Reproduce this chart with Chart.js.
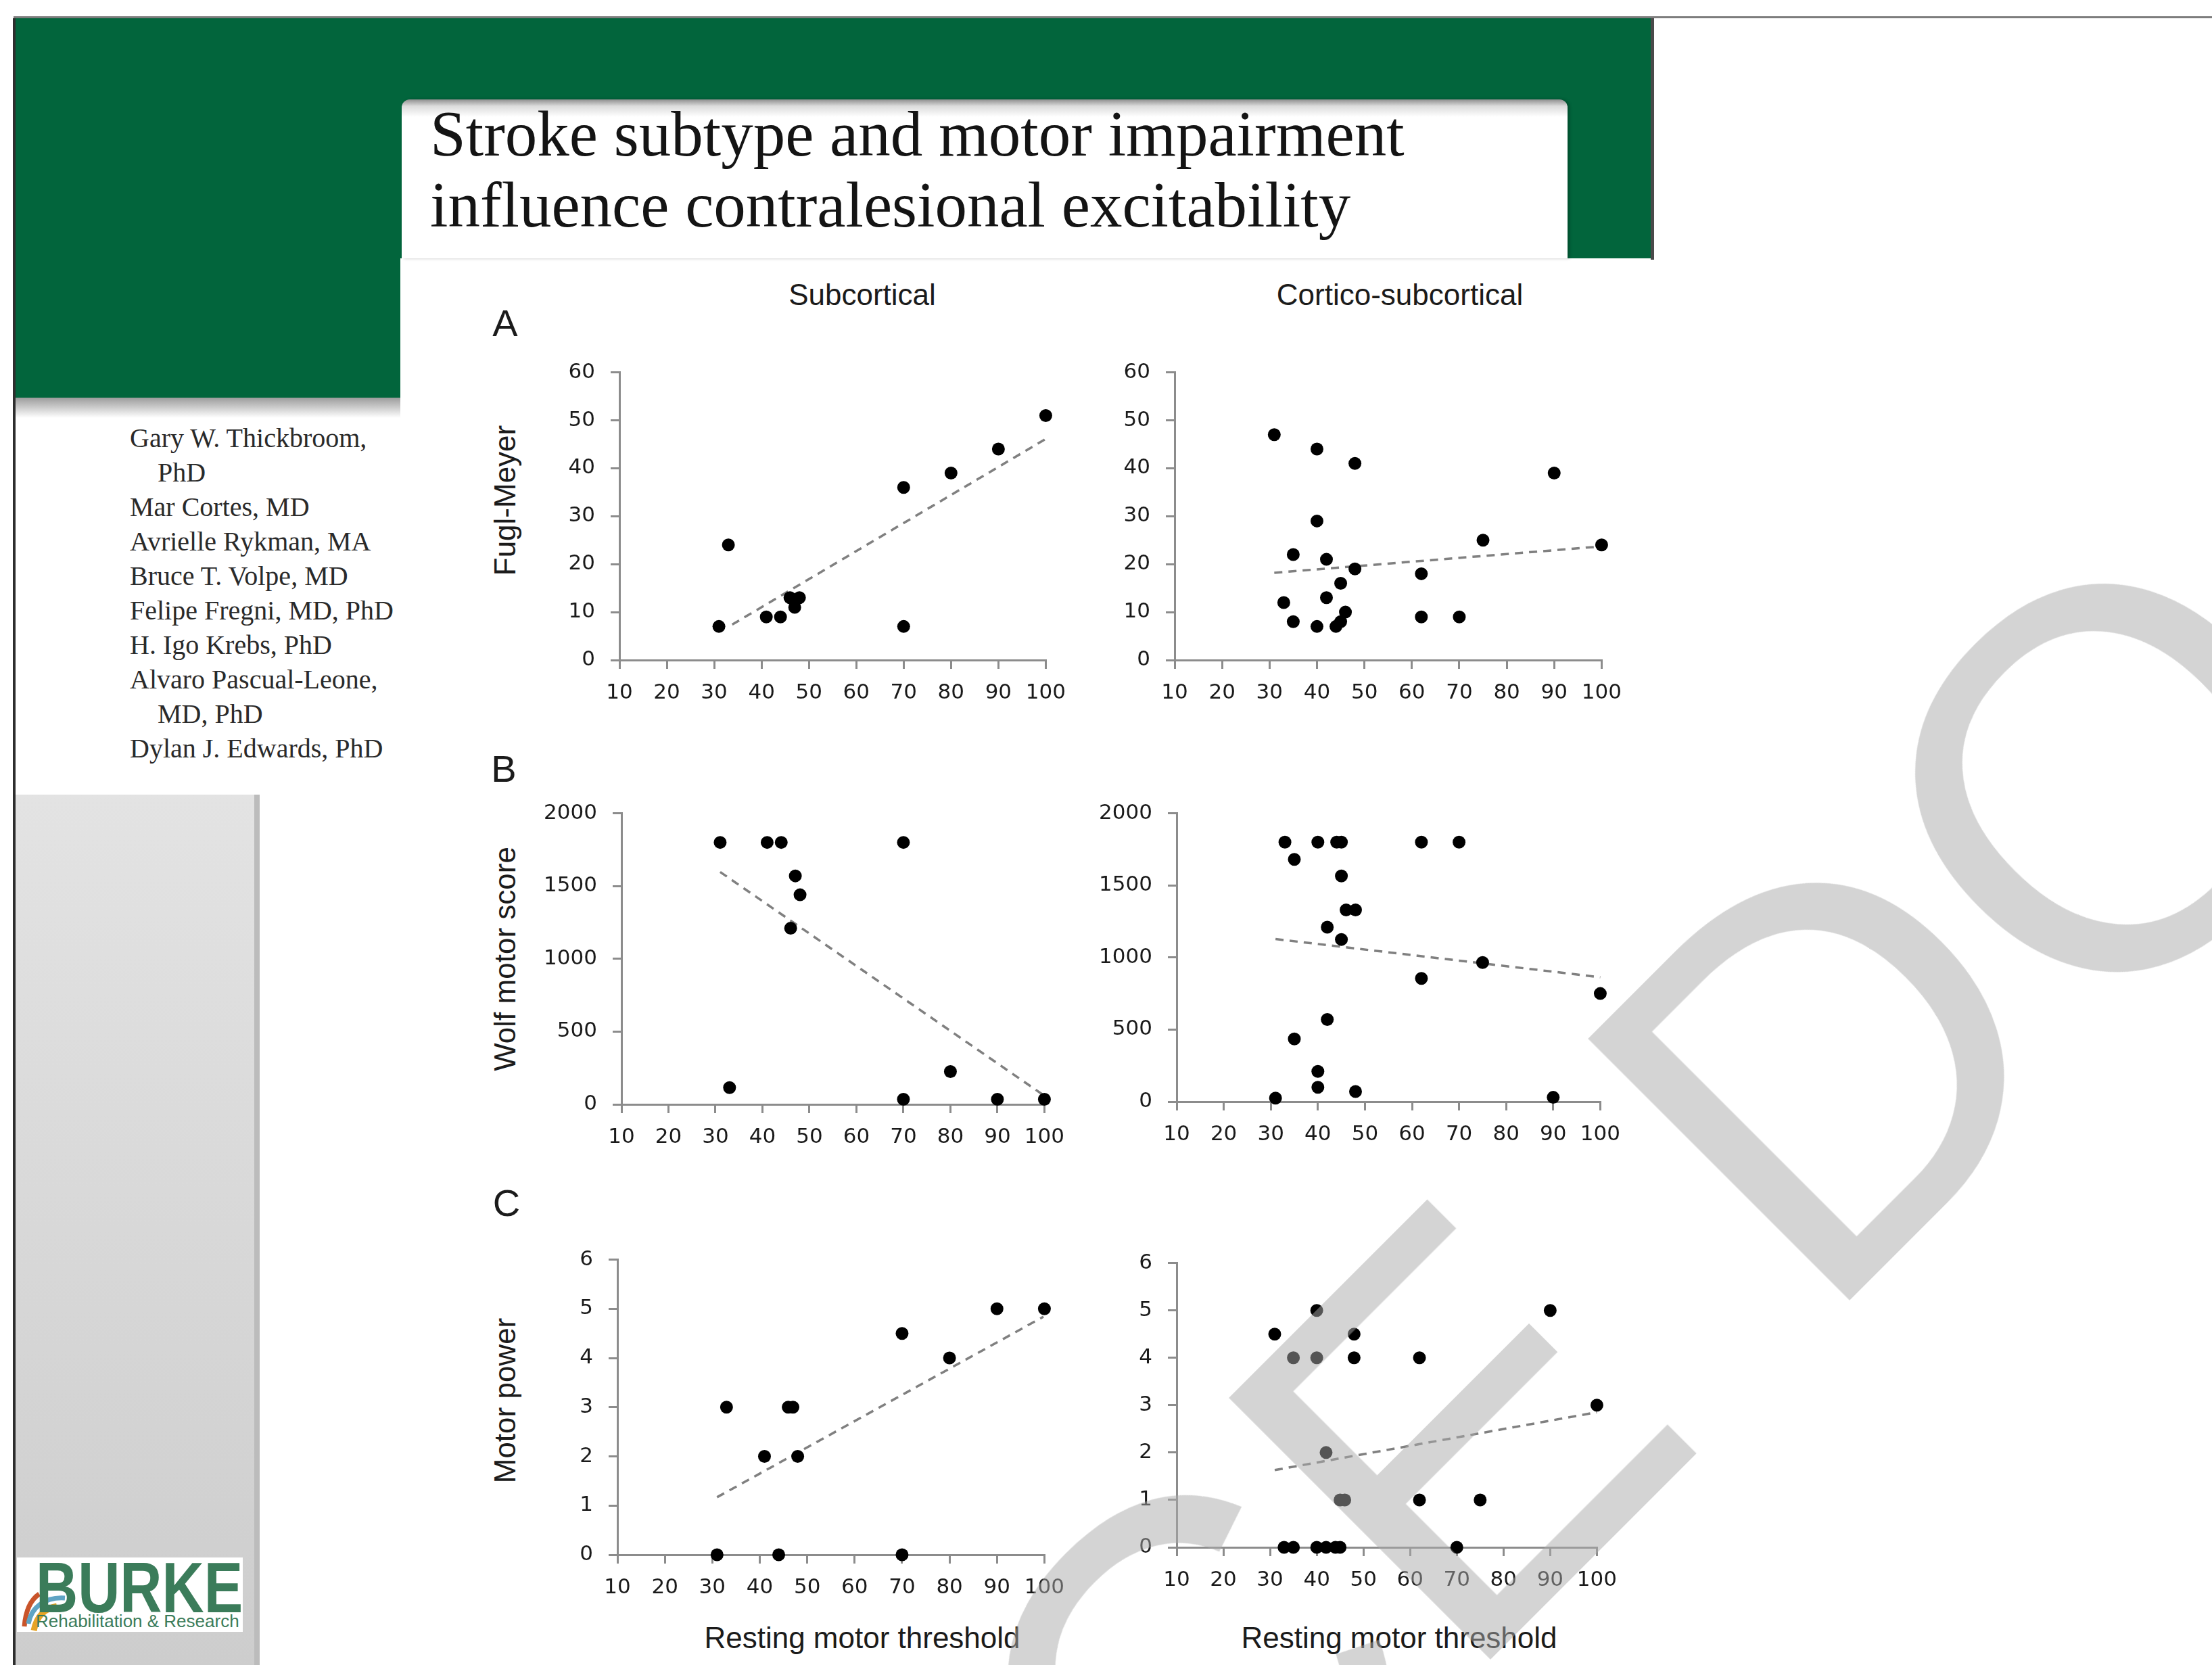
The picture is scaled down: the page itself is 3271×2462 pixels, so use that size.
<!DOCTYPE html>
<html>
<head>
<meta charset="utf-8">
<script src="https://cdn.jsdelivr.net/npm/chart.js@4.4.0/dist/chart.umd.min.js"></script>
<style>
  html, body { margin: 0; padding: 0; }
  body { width: 3271px; height: 2462px; position: relative; overflow: hidden; background: #fff;
         font-family: "Liberation Sans", Arial, sans-serif; }
  .abs { position: absolute; }
  #topline { left: 20px; top: 24px; width: 3251px; height: 3px; background: #7d7d7d; }
  #green { left: 22px; top: 27px; width: 2422px; height: 355px; background: #02653c; }
  #greenLeft { left: 22px; top: 27px; width: 570px; height: 561px; background: #02653c; }
  #greenEdge { left: 2441px; top: 27px; width: 5px; height: 357px; background: #4a4a4a; }
  #leftEdge { left: 19px; top: 27px; width: 4px; height: 2435px; background: #2e2e2e; }
  #authShadow { left: 23px; top: 588px; width: 569px; height: 30px;
                background: linear-gradient(to bottom, #9c9c9c, #fff); }
  #titleBox { left: 594px; top: 147px; width: 1724px; height: 235px; border-radius: 12px 12px 0 0;
              background: linear-gradient(to bottom, #8f8f8f 0px, #dcdcdc 10px, #fff 26px);
              box-shadow: 3px 0 4px rgba(0,0,0,0.25); }
  #title { left: 636px; top: 146px; font-family: "Liberation Serif", serif; font-size: 95px;
           line-height: 105px; color: #141414; white-space: nowrap; }
  #authors { left: 192px; top: 622px; font-family: "Liberation Serif", serif; font-size: 40px;
             line-height: 51px; color: #2a2a2a; white-space: nowrap; }
  #authors .ind { padding-left: 41px; }
  #greyPanel { left: 23px; top: 1175px; width: 353px; height: 1287px;
               background: linear-gradient(to bottom, #e3e3e3, #cdcdcd);
               border-right: 8px solid #bcbcbc; }
  #logo { left: 25px; top: 2303px; width: 334px; height: 110px; background: #fff; }
  #burke { left: 53px; top: 2295px; font-weight: bold; font-size: 105px; line-height: 105px;
           color: #3b7c5a; transform: scaleX(0.82); transform-origin: 0 0; white-space: nowrap; }
  #rehab { left: 53px; top: 2382px; font-size: 26px; line-height: 30px; color: #3b7c5a; white-space: nowrap; }
  .lbl { position: absolute; transform: translate(-50%, -50%); white-space: nowrap; line-height: 1;
         color: #1b1b1b; }
  .head { font-size: 44px; }
  .letter { font-size: 56px; }
  .ytitle { position: absolute; transform: translate(-50%, -50%) rotate(-90deg); white-space: nowrap;
            line-height: 1; font-size: 44px; color: #1b1b1b; }
  canvas { position: absolute; }
  #watermark { left: 1276px; top: 2430px; transform-origin: 0 0; transform: rotate(-45deg);
               font-family: "Liberation Sans", Arial, sans-serif; font-size: 795px; line-height: 795px;
               color: rgba(169,169,169,0.5); white-space: pre; pointer-events: none; z-index: 10; }
</style>
</head>
<body>
<div id="topline" class="abs"></div>
<div id="green" class="abs"></div>
<div id="greenLeft" class="abs"></div>
<div id="greenEdge" class="abs"></div>
<div id="leftEdge" class="abs"></div>
<div id="authShadow" class="abs"></div>
<div id="titleBox" class="abs"></div>
<div id="title" class="abs">Stroke subtype and motor impairment<br>influence contralesional excitability</div>
<div id="authors" class="abs">
  <div>Gary W. Thickbroom,</div>
  <div class="ind">PhD</div>
  <div>Mar Cortes, MD</div>
  <div>Avrielle Rykman, MA</div>
  <div>Bruce T. Volpe, MD</div>
  <div>Felipe Fregni, MD, PhD</div>
  <div>H. Igo Krebs, PhD</div>
  <div>Alvaro Pascual-Leone,</div>
  <div class="ind">MD, PhD</div>
  <div>Dylan J. Edwards, PhD</div>
</div>
<div id="greyPanel" class="abs"></div>
<div id="logo" class="abs"></div>
<svg class="abs" style="left:28px;top:2335px" width="80" height="80" viewBox="0 0 80 80">
  <path d="M8 70 C10 45 18 30 30 22" stroke="#c9542a" stroke-width="7" fill="none"/>
  <path d="M14 66 C18 42 38 26 68 28" stroke="#5fa4c4" stroke-width="7" fill="none"/>
  <path d="M22 76 C26 56 36 44 56 40" stroke="#e6a425" stroke-width="9" fill="none"/>
</svg>
<div id="burke" class="abs">BURKE</div>
<div id="rehab" class="abs">Rehabilitation &amp; Research</div>

<div class="lbl head" style="left:1275px;top:436px">Subcortical</div>
<div class="lbl head" style="left:2070px;top:436px">Cortico-subcortical</div>
<div class="lbl letter" style="left:747px;top:478px">A</div>
<div class="lbl letter" style="left:745px;top:1137px">B</div>
<div class="lbl letter" style="left:749px;top:1779px">C</div>
<div class="ytitle" style="left:747px;top:740px">Fugl-Meyer</div>
<div class="ytitle" style="left:747px;top:1418px">Wolf motor score</div>
<div class="ytitle" style="left:747px;top:2071px">Motor power</div>
<div class="lbl head" style="left:1275px;top:2422px">Resting motor threshold</div>
<div class="lbl head" style="left:2069px;top:2422px">Resting motor threshold</div>

<canvas id="aLeft"></canvas>
<canvas id="aRight"></canvas>
<canvas id="bLeft"></canvas>
<canvas id="bRight"></canvas>
<canvas id="cLeft"></canvas>
<canvas id="cRight"></canvas>

<div id="watermark" class="abs">CE DO</div>

<script>
// tick labels
const rmtTicks = [10, 20, 30, 40, 50, 60, 70, 80, 90, 100];
const fmTicks = [0, 10, 20, 30, 40, 50, 60];
const wolfTicks = [0, 500, 1000, 1500, 2000];
const powerTicks = [0, 1, 2, 3, 4, 5, 6];

// A - Fugl-Meyer vs resting motor threshold
const subFmRmt = [31, 33, 41, 44, 46, 47, 48, 70, 70, 80, 90, 100];
const subFmScore = [7, 24, 9, 9, 13, 11, 13, 36, 7, 39, 44, 51];
const subFmTrendRmt = [33.8, 99.8];
const subFmTrendScore = [7.4, 46];

const corFmRmt = [31, 40, 48, 40, 35, 42, 48, 45, 33, 42, 35, 40, 44, 45, 46, 62, 62, 70, 75, 90, 100];
const corFmScore = [47, 44, 41, 29, 22, 21, 19, 16, 12, 13, 8, 7, 7, 8, 10, 18, 9, 9, 25, 39, 24];
const corFmTrendRmt = [31, 100];
const corFmTrendScore = [18.2, 23.7];

// B - Wolf motor score
const subWolfRmt = [31, 41, 44, 70, 47, 48, 46, 33, 80, 70, 90, 100];
const subWolfScore = [1800, 1800, 1800, 1800, 1570, 1440, 1210, 115, 225, 35, 35, 35];
const subWolfTrendRmt = [31, 100];
const subWolfTrendScore = [1597, 59];

const corWolfRmt = [33, 40, 44, 45, 62, 70, 35, 45, 46, 48, 42, 45, 75, 62, 100, 42, 35, 40, 40, 48, 31, 90];
const corWolfScore = [1800, 1800, 1800, 1800, 1800, 1800, 1680, 1565, 1330, 1330, 1210, 1125, 965, 855, 750, 570, 435, 210, 100, 70, 25, 30];
const corWolfTrendRmt = [31, 100];
const corWolfTrendScore = [1128, 863];

// C - Motor power
const subPowRmt = [31, 44, 70, 33, 41, 46, 47, 48, 70, 80, 90, 100];
const subPowScore = [0, 0, 0, 3, 2, 3, 3, 2, 4.5, 4, 5, 5];
const subPowTrendRmt = [31, 99.8];
const subPowTrendScore = [1.17, 4.84];

const corPowRmt = [31, 40, 48, 48, 35, 40, 62, 90, 100, 42, 45, 46, 62, 75, 33, 35, 40, 42, 44, 45, 70];
const corPowScore = [4.5, 5, 4.5, 4, 4, 4, 4, 5, 3, 2, 1, 1, 1, 1, 0, 0, 0, 0, 0, 0, 0];
const corPowTrendRmt = [31, 100];
const corPowTrendScore = [1.63, 2.85];

const Y_W = 130, X_H = 80, PAD_TOP = 30, PAD_RIGHT = 40;
const axisGrey = "#8c8c8c";

// plot box in page pixels: [left, right, top, bottom]
const panels = [
  { id: "aLeft",  box: [916, 1553, 539, 976],   x: subFmRmt,   y: subFmScore,   tx: subFmTrendRmt,   ty: subFmTrendScore,   yTicks: fmTicks },
  { id: "aRight", box: [1737, 2375, 539, 976],  x: corFmRmt,   y: corFmScore,   tx: corFmTrendRmt,   ty: corFmTrendScore,   yTicks: fmTicks },
  { id: "bLeft",  box: [919, 1551, 1191, 1633], x: subWolfRmt, y: subWolfScore, tx: subWolfTrendRmt, ty: subWolfTrendScore, yTicks: wolfTicks },
  { id: "bRight", box: [1740, 2373, 1191, 1629],x: corWolfRmt, y: corWolfScore, tx: corWolfTrendRmt, ty: corWolfTrendScore, yTicks: wolfTicks },
  { id: "cLeft",  box: [913, 1551, 1851, 2299], x: subPowRmt,  y: subPowScore,  tx: subPowTrendRmt,  ty: subPowTrendScore,  yTicks: powerTicks },
  { id: "cRight", box: [1740, 2368, 1856, 2288],x: corPowRmt,  y: corPowScore,  tx: corPowTrendRmt,  ty: corPowTrendScore,  yTicks: powerTicks }
];

function toPoints(xs, ys) {
  return xs.map((v, i) => ({ x: v, y: ys[i] }));
}

function makePanel(p) {
  const cv = document.getElementById(p.id);
  const left = p.box[0] - Y_W;
  const top = p.box[2] - PAD_TOP;
  const w = p.box[1] + PAD_RIGHT - left;
  const h = p.box[3] + X_H - top;
  cv.width = w;
  cv.height = h;
  cv.style.left = left + "px";
  cv.style.top = top + "px";
  cv.style.width = w + "px";
  cv.style.height = h + "px";

  const tickFont = { family: "DejaVu Sans", size: 31 };

  new Chart(cv.getContext("2d"), {
    type: "scatter",
    data: {
      datasets: [
        {
          data: toPoints(p.x, p.y),
          backgroundColor: "#000",
          borderColor: "#000",
          borderWidth: 0,
          pointRadius: 9.5,
          pointHoverRadius: 9.5,
          clip: false,
          order: 1
        },
        {
          data: toPoints(p.tx, p.ty),
          showLine: true,
          borderColor: "#808080",
          borderWidth: 3.5,
          borderDash: [12, 9],
          pointRadius: 0,
          clip: false,
          order: 2
        }
      ]
    },
    options: {
      responsive: false,
      animation: false,
      devicePixelRatio: 1,
      events: [],
      layout: { autoPadding: false, padding: { top: PAD_TOP, right: PAD_RIGHT, left: 0, bottom: 0 } },
      plugins: { legend: { display: false }, tooltip: { enabled: false } },
      scales: {
        x: {
          type: "linear",
          min: rmtTicks[0],
          max: rmtTicks[rmtTicks.length - 1],
          afterBuildTicks: s => { s.ticks = rmtTicks.map(v => ({ value: v })); },
          afterFit: s => { s.height = X_H; },
          grid: { drawOnChartArea: false, drawTicks: true, tickLength: 13, color: axisGrey, lineWidth: 3 },
          border: { color: axisGrey, width: 3 },
          ticks: { font: tickFont, color: "#1a1a1a", padding: 17, maxRotation: 0, autoSkip: false,
                   callback: v => String(v) }
        },
        y: {
          type: "linear",
          min: p.yTicks[0],
          max: p.yTicks[p.yTicks.length - 1],
          afterBuildTicks: s => { s.ticks = p.yTicks.map(v => ({ value: v })); },
          afterFit: s => { s.width = Y_W; },
          grid: { drawOnChartArea: false, drawTicks: true, tickLength: 13, color: axisGrey, lineWidth: 3 },
          border: { color: axisGrey, width: 3 },
          ticks: { font: tickFont, color: "#1a1a1a", padding: 23, autoSkip: false,
                   callback: v => String(v) }
        }
      }
    }
  });
}

panels.forEach(makePanel);
</script>
</body>
</html>
